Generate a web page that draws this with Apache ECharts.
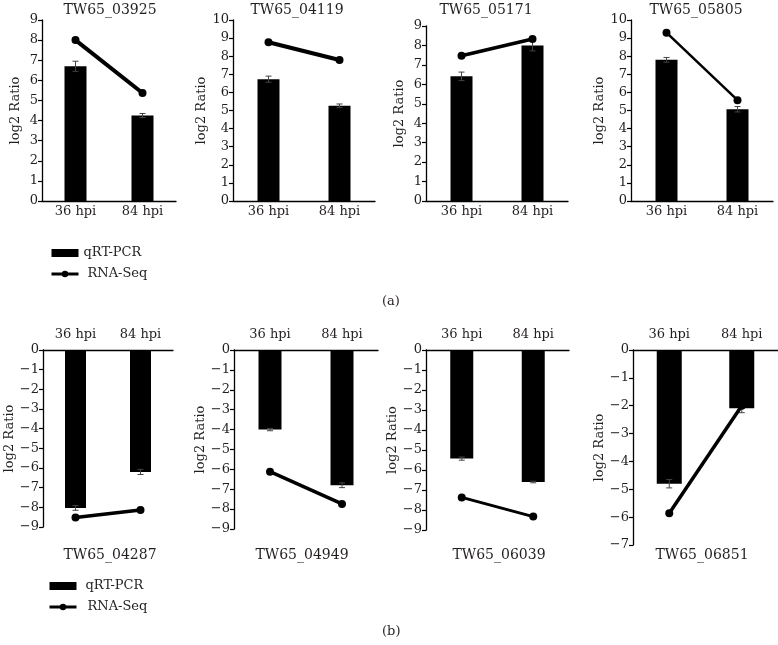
<!DOCTYPE html>
<html>
<head>
<meta charset="utf-8">
<script src="https://cdn.jsdelivr.net/npm/echarts@6/dist/echarts.min.js"></script>
<style>html,body{margin:0;padding:0;background:#fff;}#c{width:778px;height:645px;}</style>
</head>
<body>
<div id="c"></div>
<script>
// ---- data ----
const categories = ['36 hpi', '84 hpi'];
const genes = ['TW65_03925', 'TW65_04119', 'TW65_05171', 'TW65_05805',
               'TW65_04287', 'TW65_04949', 'TW65_06039', 'TW65_06851'];
const seriesNames = ['qRT-PCR', 'RNA-Seq'];
const panelLabels = ['(a)', '(b)'];

const qpcr03925 = [6.70, 4.25];  const qpcrErr03925 = [0.25, 0.10]; const rnaseq03925 = [8.00, 5.37];
const qpcr04119 = [6.73, 5.26];  const qpcrErr04119 = [0.17, 0.10]; const rnaseq04119 = [8.77, 7.79];
const qpcr05171 = [6.41, 8.00];  const qpcrErr05171 = [0.22, 0.28]; const rnaseq05171 = [7.47, 8.33];
const qpcr05805 = [7.80, 5.07];  const qpcrErr05805 = [0.13, 0.15]; const rnaseq05805 = [9.30, 5.57];
const qpcr04287 = [-8.03, -6.20]; const qpcrErr04287 = [0.12, 0.13]; const rnaseq04287 = [-8.52, -8.13];
const qpcr04949 = [-4.00, -6.80]; const qpcrErr04949 = [0.06, 0.12]; const rnaseq04949 = [-6.12, -7.74];
const qpcr06039 = [-5.43, -6.60]; const qpcrErr06039 = [0.08, 0.04]; const rnaseq06039 = [-7.37, -8.33];
const qpcr06851 = [-4.80, -2.09]; const qpcrErr06851 = [0.15, 0.16]; const rnaseq06851 = [-5.86, -2.00];

const yMin = [0, 0, 0, 0, -9, -9, -9, -7];
const yMax = [9, 10, 9, 10, 0, 0, 0, 0];

const qpcrAll = [qpcr03925, qpcr04119, qpcr05171, qpcr05805, qpcr04287, qpcr04949, qpcr06039, qpcr06851];
const errAll = [qpcrErr03925, qpcrErr04119, qpcrErr05171, qpcrErr05805, qpcrErr04287, qpcrErr04949, qpcrErr06039, qpcrErr06851];
const rnaAll = [rnaseq03925, rnaseq04119, rnaseq05171, rnaseq05805, rnaseq04287, rnaseq04949, rnaseq06039, rnaseq06851];

// ---- layout / style (not data) ----
const FONT = 'DejaVu Serif';
const TXT = '#231f20';
const grids = [
  {left: 42, top: 20, width: 134, height: 181},
  {left: 233, top: 20, width: 142, height: 181},
  {left: 426, top: 26, width: 142, height: 175},
  {left: 631, top: 20, width: 142, height: 181},
  {left: 43, top: 350, width: 130, height: 177},
  {left: 234, top: 350, width: 144, height: 179},
  {left: 426, top: 350, width: 143, height: 180},
  {left: 633, top: 350, width: 145, height: 195}
];
const titlePos = [[110, 3], [297, 3], [486, 3], [696, 3], [110, 548], [302, 548], [499, 548], [702, 548]];
const lineW = [4, 4, 3.5, 2.5, 3.5, 3.5, 3, 3.5];
const nameGaps = [20, 20, 20, 20, 24, 22, 22, 22];
const barW = [22, 22, 22, 22, 21, 23, 23, 25];

const option = {
  backgroundColor: '#fff',
  animation: false,
  textStyle: {fontFamily: FONT, color: TXT},
  title: [],
  grid: [],
  xAxis: [],
  yAxis: [],
  series: [],
  legend: []
};

genes.forEach((g, i) => {
  option.title.push({
    text: g, left: titlePos[i][0], top: titlePos[i][1], textAlign: 'center', padding: 0,
    textStyle: {fontFamily: FONT, fontSize: 14, fontWeight: 'normal', color: TXT}
  });
});
option.title.push({text: panelLabels[0], left: 382, top: 295, padding: 0,
  textStyle: {fontFamily: FONT, fontSize: 13, fontWeight: 'normal', color: TXT}});
option.title.push({text: panelLabels[1], left: 382, top: 625, padding: 0,
  textStyle: {fontFamily: FONT, fontSize: 13, fontWeight: 'normal', color: TXT}});

for (let i = 0; i < 8; i++) {
  const bottomRow = i >= 4;
  option.grid.push(Object.assign({containLabel: false}, grids[i]));
  option.xAxis.push({
    type: 'category', gridIndex: i, data: categories,
    position: bottomRow ? 'top' : 'bottom',
    boundaryGap: true,
    axisLine: {onZero: false, lineStyle: {color: '#000', width: 1.3}},
    axisTick: {alignWithLabel: true, length: 4, lineStyle: {color: '#000', width: 1.2}},
    axisLabel: {fontFamily: FONT, fontSize: 13, color: TXT, margin: bottomRow ? 9 : 4},
    splitLine: {show: false}
  });
  option.yAxis.push({
    type: 'value', gridIndex: i, min: yMin[i], max: yMax[i], interval: 1,
    name: 'log2 Ratio', nameLocation: 'middle', nameRotate: 90, nameGap: nameGaps[i],
    nameTextStyle: {fontFamily: FONT, fontSize: 13, color: TXT},
    axisLine: {show: true, onZero: false, lineStyle: {color: '#000', width: 1.3}},
    axisTick: {show: true, length: 4, lineStyle: {color: '#000', width: 1.2}},
    axisLabel: {fontFamily: FONT, fontSize: 13, color: TXT, margin: 4,
      formatter: v => (v < 0 ? '\u2212' + Math.abs(v) : String(v))},
    splitLine: {show: false}
  });
  option.series.push({
    type: 'bar', name: seriesNames[0], xAxisIndex: i, yAxisIndex: i,
    data: qpcrAll[i], barWidth: barW[i], itemStyle: {color: '#000'}, z: 2
  });
  option.series.push({
    type: 'custom', xAxisIndex: i, yAxisIndex: i, z: 3,
    data: qpcrAll[i].map((v, k) => [k, v, errAll[i][k]]),
    encode: {x: 0, y: 1},
    renderItem: function (params, api) {
      const x = api.value(0), v = api.value(1), e = api.value(2);
      const hi = api.coord([x, v + e]);
      const lo = api.coord([x, v - e]);
      const cw = 3;
      const st = {stroke: '#444', lineWidth: 1};
      return {type: 'group', children: [
        {type: 'line', shape: {x1: hi[0], y1: hi[1], x2: lo[0], y2: lo[1]}, style: st},
        {type: 'line', shape: {x1: hi[0] - cw, y1: hi[1], x2: hi[0] + cw, y2: hi[1]}, style: st},
        {type: 'line', shape: {x1: lo[0] - cw, y1: lo[1], x2: lo[0] + cw, y2: lo[1]}, style: st}
      ]};
    }
  });
  option.series.push({
    type: 'line', name: seriesNames[1], xAxisIndex: i, yAxisIndex: i,
    data: rnaAll[i], symbol: 'circle', symbolSize: 8,
    lineStyle: {color: '#000', width: lineW[i]}, itemStyle: {color: '#000'}, z: 4
  });
}

const legendBase = {
  orient: 'vertical', itemWidth: 27, itemHeight: 8, itemGap: 5,
  textStyle: {fontFamily: FONT, fontSize: 13, color: TXT, lineHeight: 16},
  selectedMode: false
};
option.legend.push(Object.assign({}, legendBase, {
  left: 45, top: 240,
  data: [{name: seriesNames[0], icon: 'rect', textStyle: {padding: [0, 0, 0, 0]}},
         {name: seriesNames[1], symbolSize: 9, lineStyle: {width: 3}, textStyle: {padding: [0, 0, 0, 4]}}]
}));
option.legend.push(Object.assign({}, legendBase, {
  left: 43, top: 573,
  data: [{name: seriesNames[0], icon: 'rect', textStyle: {padding: [0, 0, 0, 4]}},
         {name: seriesNames[1], symbolSize: 9, lineStyle: {width: 3}, textStyle: {padding: [0, 0, 0, 6]}}]
}));

const chart = echarts.init(document.getElementById('c'), null, {renderer: 'canvas'});
chart.setOption(option);
</script>
</body>
</html>
